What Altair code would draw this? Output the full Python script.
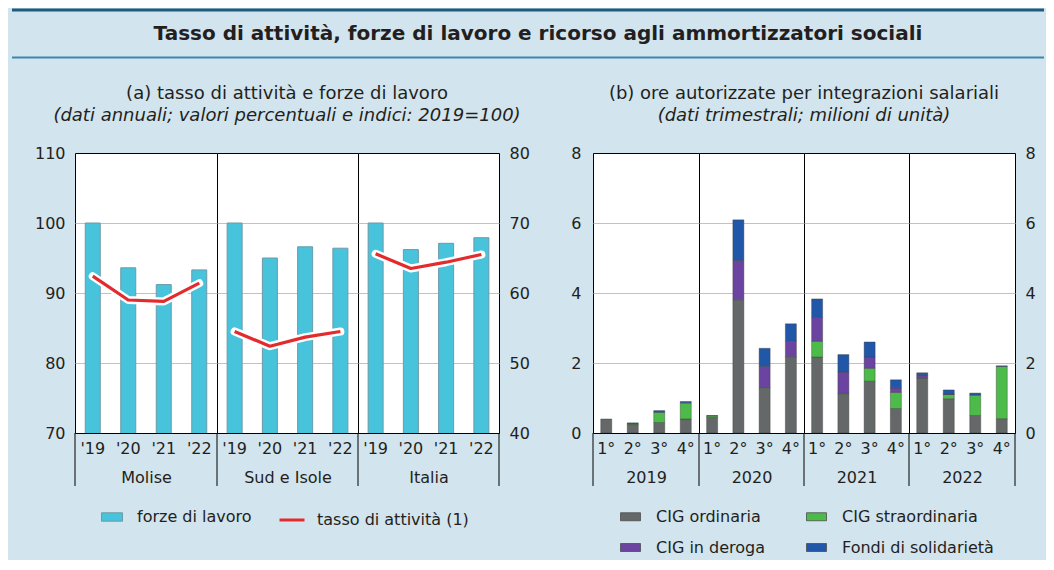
import altair as alt
import pandas as pd

# ---------------- data ----------------
TITLE = "Tasso di attività, forze di lavoro e ricorso agli ammortizzatori sociali"
TITLE_A = "(a) tasso di attività e forze di lavoro"
SUB_A = "(dati annuali; valori percentuali e indici: 2019=100)"
TITLE_B = "(b) ore autorizzate per integrazioni salariali"
SUB_B = "(dati trimestrali; milioni di unità)"

regions = ["Molise", "Sud e Isole", "Italia"]
years_a = ["'19", "'20", "'21", "'22"]
forze_molise = [100, 93.6, 91.2, 93.3]
forze_sud = [100, 95.0, 96.6, 96.4]
forze_italia = [100, 96.2, 97.1, 97.9]
tasso_molise = [62.4, 59.0, 58.8, 61.4]
tasso_sud = [54.5, 52.4, 53.7, 54.5]
tasso_italia = [65.6, 63.5, 64.4, 65.5]
serie_a_bar = "forze di lavoro"
serie_a_line = "tasso di attività (1)"

years_b = ["2019", "2020", "2021", "2022"]
quarters = ["1°", "2°", "3°", "4°"]
series_b = ["CIG ordinaria", "CIG straordinaria", "CIG in deroga", "Fondi di solidarietà"]
cig_ord = [0.40, 0.24, 0.30, 0.40, 0.45, 3.81, 1.28, 2.16, 2.17, 1.11, 1.48, 0.70, 1.57, 0.98, 0.50, 0.41]
cig_stra = [0.00, 0.02, 0.29, 0.46, 0.04, 0.00, 0.02, 0.02, 0.45, 0.02, 0.37, 0.46, 0.02, 0.12, 0.58, 1.49]
cig_der = [0.00, 0.00, 0.00, 0.00, 0.00, 1.12, 0.60, 0.44, 0.68, 0.61, 0.32, 0.13, 0.07, 0.01, 0.00, 0.00]
fondi = [0.00, 0.03, 0.05, 0.04, 0.01, 1.16, 0.52, 0.50, 0.53, 0.50, 0.43, 0.23, 0.06, 0.12, 0.06, 0.02]

# ---------------- styles ----------------
FONT = "DejaVu Sans"
TXT = "#231f20"
BG = "#d2e4ee"
C_BAR = "#47c3dc"
C_LINE = "#e32a2c"
COLOR_OF = {"CIG ordinaria": "#646868", "CIG straordinaria": "#4cbb4a",
            "CIG in deroga": "#6a44a0", "Fondi di solidarietà": "#2057a8"}
LEGEND_ORDER_B = ["CIG ordinaria", "CIG in deroga", "CIG straordinaria", "Fondi di solidarietà"]
RECT = "M-1,-0.4H1V0.4H-1Z"
H = 280
W_A = [142, 141, 141]
GAP = 94
W_B = [106, 105, 105, 106]
DROP = 53
LX0 = -63            # header rule start (relative to first plot)
LX1 = 969            # header rule end

forze_by = [forze_molise, forze_sud, forze_italia]
tasso_by = [tasso_molise, tasso_sud, tasso_italia]
series_vals = [cig_ord, cig_stra, cig_der, fondi]
one = pd.DataFrame({"d": [0]})

fill_enc = alt.Fill(
    "s1:N",
    scale=alt.Scale(domain=[serie_a_bar], range=[C_BAR]),
    legend=alt.Legend(orient="none", legendX=26, legendY=353, title=None, padding=0,
                      symbolType=RECT, symbolSize=441, labelOffset=14,
                      symbolStrokeColor="#6d9aa8", symbolStrokeWidth=1),
)
stroke_enc = alt.Stroke(
    "s2:N",
    scale=alt.Scale(domain=[serie_a_line], range=[C_LINE]),
    legend=alt.Legend(orient="none", legendX=203, legendY=353, title=None, padding=0,
                      symbolType="stroke", symbolSize=625, symbolStrokeWidth=3,
                      labelOffset=11),
)
color_enc = alt.Color(
    "tipo:N",
    scale=alt.Scale(domain=LEGEND_ORDER_B, range=[COLOR_OF[s] for s in LEGEND_ORDER_B]),
    legend=alt.Legend(orient="none", legendX=545, legendY=353, title=None, padding=0,
                      columns=2, columnPadding=38, rowPadding=12,
                      symbolType=RECT, symbolSize=400, labelOffset=15,
                      symbolStrokeColor="#4d4d4d", symbolStrokeWidth=0.8),
)


def grid_op(lo, hi):
    return {"condition": {"test": f"datum.value == {lo} || datum.value == {hi}", "value": 0},
            "value": 1}


def text_at(txt, x, y, size, weight="normal", style="normal"):
    return alt.Chart(pd.DataFrame({"t": [txt]})).mark_text(
        font=FONT, fontSize=size, fontWeight=weight, fontStyle=style, color=TXT,
        align="center", baseline="alphabetic").encode(text="t:N", x=alt.value(x), y=alt.value(y))


def vrule(x):
    return alt.Chart(one).mark_rule(color="black", strokeWidth=1).encode(
        x=alt.value(x), y=alt.value(H), y2=alt.value(H + DROP))


def sub_a(i, reg):
    first = i == 0
    last = i == len(regions) - 1
    w = W_A[i]
    df = pd.DataFrame({"anno": years_a, "forze": forze_by[i], "tasso": tasso_by[i],
                       "s1": serie_a_bar, "s2": serie_a_line})
    xenc = alt.X("anno:N", sort=years_a,
                 axis=alt.Axis(title=reg, labelAngle=0, ticks=False, tickSize=0, domain=False,
                               labelPadding=7, titlePadding=13))
    common = dict(values=[70, 80, 90, 100, 110], ticks=False, tickSize=0, domain=False,
                  grid=True, gridColor="#c2c2c2", gridOpacity=grid_op(70, 110), title=None)
    if first:
        lax = alt.Axis(orient="left", labelPadding=10, minExtent=66, **common)
    else:
        lax = alt.Axis(orient="left", labels=False, **common)
    sc_l = alt.Scale(domain=[70, 110], nice=False, zero=False)
    sc_r = alt.Scale(domain=[40, 80], nice=False, zero=False)
    bars = alt.Chart(df).mark_bar(size=15, stroke="#6d9aa8", strokeWidth=1, clip=True).encode(
        x=xenc, y=alt.Y("forze:Q", scale=sc_l, axis=lax), fill=fill_enc)
    halo = alt.Chart(df).mark_line(color="white", strokeWidth=8, strokeCap="round",
                                   strokeJoin="round").encode(
        x=xenc, y=alt.Y("tasso:Q", scale=sc_r, axis=None))
    if last:
        rax = alt.Axis(orient="right", values=[40, 50, 60, 70, 80], labelPadding=10, ticks=False,
                       tickSize=0, domain=False, grid=False, title=None)
        yline = alt.Y("tasso:Q", scale=sc_r, axis=rax)
    else:
        yline = alt.Y("tasso:Q", scale=sc_r, axis=None)
    line = alt.Chart(df).mark_line(strokeWidth=3.2, strokeCap="butt", strokeJoin="round").encode(
        x=xenc, y=yline, stroke=stroke_enc)
    layers = [bars, halo, line, vrule(0)]
    if last:
        layers.append(vrule(w))
    if first:
        # figure header and panel title
        layers += [
            alt.Chart(one).mark_rule(color="#1d5c7e", strokeWidth=3).encode(
                x=alt.value(LX0), x2=alt.value(LX1), y=alt.value(-143)),
            alt.Chart(one).mark_rule(color="#3e86ae", strokeWidth=2).encode(
                x=alt.value(LX0), x2=alt.value(LX1), y=alt.value(-95.5)),
            alt.Chart(pd.DataFrame({"t": [TITLE]})).mark_text(
                font=FONT, fontSize=20, fontWeight="bold", color=TXT, align="center",
                baseline="middle").encode(text="t:N", x=alt.value(463), y=alt.value(-119.5)),
            text_at(TITLE_A, 212, -54.5, 18),
            text_at(SUB_A, 212, -32, 18, style="italic"),
        ]
    return alt.layer(*layers).resolve_scale(y="independent").properties(width=w, height=H)


def sub_b(i, yr):
    first = i == 0
    last = i == len(years_b) - 1
    w = W_B[i]
    rows = []
    for qi, q in enumerate(quarters):
        k = i * 4 + qi
        for si, name in enumerate(series_b):
            v = series_vals[si][k]
            if v > 0:
                rows.append({"trim": q, "tipo": name, "ord": si, "val": v})
    df = pd.DataFrame(rows)
    xenc = alt.X("trim:N", sort=quarters,
                 axis=alt.Axis(title=yr, labelAngle=0, ticks=False, tickSize=0, domain=False,
                               labelPadding=7, titlePadding=13))
    sc = alt.Scale(domain=[0, 8], nice=False)
    common = dict(values=[0, 2, 4, 6, 8], ticks=False, tickSize=0, domain=False, grid=True,
                  gridColor="#c2c2c2", gridOpacity=grid_op(0, 8), title=None)
    if first:
        lax = alt.Axis(orient="left", labelPadding=12, **common)
    else:
        lax = alt.Axis(orient="left", labels=False, **common)
    bars = alt.Chart(df).mark_bar(size=11, stroke="#3d3d3d", strokeWidth=0.6,
                                  strokeOpacity=0.7).encode(
        x=xenc, y=alt.Y("val:Q", stack="zero", scale=sc, axis=lax),
        color=color_enc, order=alt.Order("ord:Q", sort="ascending"))
    layers = [bars, vrule(0)]
    if first:
        layers += [text_at(TITLE_B, 211, -54.5, 18),
                   text_at(SUB_B, 211, -32, 18, style="italic")]
    if last:
        layers.append(vrule(w))
        rax = alt.Axis(orient="right", values=[0, 2, 4, 6, 8], labelPadding=10, ticks=False,
                       tickSize=0, domain=False, grid=False, title=None)
        layers.append(alt.Chart(pd.DataFrame({"v": [0, 8]})).mark_point(opacity=0).encode(
            y=alt.Y("v:Q", scale=sc, axis=rax)))
        return alt.layer(*layers).resolve_scale(y="independent").properties(width=w, height=H)
    return alt.layer(*layers).properties(width=w, height=H)


spacer = alt.Chart(one).mark_point(opacity=0).encode(
    x=alt.value(0), y=alt.value(0)
).properties(width=GAP, height=H,
             view=alt.ViewBackground(fill="transparent", stroke="transparent"))

charts = [sub_a(i, r) for i, r in enumerate(regions)] + [spacer] + \
         [sub_b(i, y) for i, y in enumerate(years_b)]

chart = alt.hconcat(*charts, spacing=0, bounds="flush").properties(
    padding={"top": 0, "left": 0, "right": 0, "bottom": 4}, background=BG
).configure_view(stroke="black", strokeWidth=1, fill="white").configure_axis(
    labelFont=FONT, titleFont=FONT, labelColor=TXT, titleColor=TXT, labelFontSize=16,
    titleFontSize=16, titleFontWeight="normal"
).configure_legend(labelFont=FONT, labelColor=TXT, labelFontSize=16)

chart.save("out.html", embed_options={"renderer": "svg", "actions": False})
